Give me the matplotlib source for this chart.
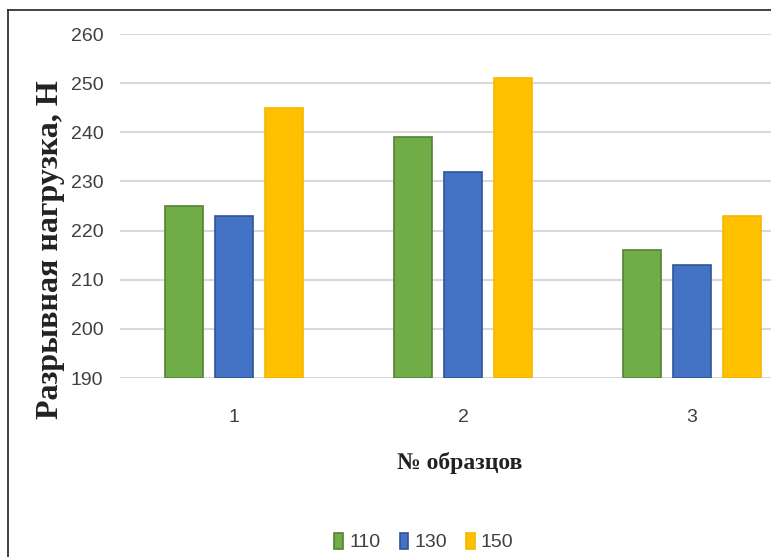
import numpy as np
import matplotlib
matplotlib.use("Agg")
import matplotlib.pyplot as plt
from matplotlib.lines import Line2D

# data
samples = ["1", "2", "3"]
series_names = ["110", "130", "150"]
load_110 = [225, 239, 216]
load_130 = [223, 232, 213]
load_150 = [245, 251, 223]

colors = ["#70AD47", "#4472C4", "#FFC000"]
edges = ["#548235", "#2F5597", "#F5B800"]

tick_font = ["Liberation Sans", "DejaVu Sans"]
label_font = ["Liberation Serif", "DejaVu Serif"]

fig = plt.figure(figsize=(7.71, 5.57), dpi=100)
W, H = 771, 557
# plot area is cut on the right in the original, so it runs past the figure
ax = fig.add_axes([120 / W, 1 - 378 / H, 686 / W, 344 / H])

x = np.arange(len(samples))
width = 0.166
step = 0.219
for i, (name, vals) in enumerate(zip(series_names, [load_110, load_130, load_150])):
    ax.bar(x + (i - 1) * step, np.array(vals) - 190, width, bottom=190,
           color=colors[i], edgecolor=edges[i], linewidth=1.2, label=name, zorder=3)

ax.set_xlim(-0.5, 2.5)
ax.set_ylim(190, 260)
ax.set_yticks(range(190, 261, 10))
ax.set_xticks(x)
ax.set_xticklabels(samples)
ax.grid(axis="y", color="#D9D9D9", linewidth=1.5, zorder=0)
for s in ax.spines.values():
    s.set_visible(False)
ax.tick_params(length=0, labelcolor="#404040", labelsize=14)
ax.tick_params(axis="y", pad=12)
ax.tick_params(axis="x", pad=22)
for t in ax.get_yticklabels() + ax.get_xticklabels():
    t.set_family(tick_font)

fig.text(51 / W, 1 - 250 / H, "Разрывная нагрузка, Н", rotation=90,
         ha="center", va="center", family=label_font, fontweight="bold",
         fontsize=23, color="#222222")
fig.text(460 / W, 1 - 463 / H, "№ образцов", ha="center", va="center",
         family=label_font, fontweight="bold", fontsize=17, color="#222222")

leg = fig.legend(loc="center", bbox_to_anchor=(424 / W, 1 - 542 / H), ncol=3,
                 frameon=False, prop={"family": tick_font, "size": 14},
                 handlelength=0.45, handleheight=0.9, handletextpad=0.3,
                 columnspacing=1.0)
for t in leg.get_texts():
    t.set_color("#404040")

# outer frame, only left and top edges are visible in the crop
fig.add_artist(Line2D([8 / W, 8 / W], [0, 1 - 10 / H], color="#333333", lw=1.3))
fig.add_artist(Line2D([8 / W, 1], [1 - 10 / H, 1 - 10 / H], color="#333333", lw=1.3))

fig.savefig("out.png", dpi=100)
